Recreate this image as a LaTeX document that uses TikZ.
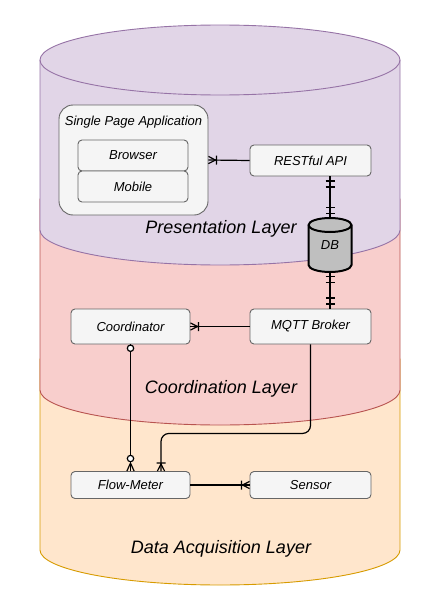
\documentclass[tikz,border=0pt]{standalone}
\usepackage{fontspec}
\setmainfont{Liberation Sans}
\usepackage{tikz}
\usetikzlibrary{calc}
\usetikzlibrary{positioning}
\usetikzlibrary{arrows.meta}

\definecolor{presfill}{HTML}{E1D5E7}
\definecolor{presline}{HTML}{9673A6}
\definecolor{coorfill}{HTML}{F8CECC}
\definecolor{coorline}{HTML}{B85450}
\definecolor{acqfill}{HTML}{FFE6CC}
\definecolor{acqline}{HTML}{D79B00}
\definecolor{boxfill}{HTML}{F5F5F5}
\definecolor{boxline}{HTML}{666666}
\definecolor{dbfill}{HTML}{BFBFBF}

% ER end marks
\pgfdeclarearrow{
  name = ER Many,
  setup code = {
    \pgfarrowssettipend{0pt}
    \pgfarrowssetlineend{0pt}
    \pgfarrowssetbackend{-9pt}
  },
  drawing code = {
    \pgfpathmoveto{\pgfqpoint{-7pt}{0pt}}
    \pgfpathlineto{\pgfqpoint{0pt}{3.6pt}}
    \pgfpathmoveto{\pgfqpoint{-7pt}{0pt}}
    \pgfpathlineto{\pgfqpoint{0pt}{-3.6pt}}
    \pgfpathmoveto{\pgfqpoint{-8pt}{4.5pt}}
    \pgfpathlineto{\pgfqpoint{-8pt}{-4.5pt}}
    \pgfusepathqstroke
  }
}
\pgfdeclarearrow{
  name = ER Zero Many,
  setup code = {
    \pgfarrowssettipend{0pt}
    \pgfarrowssetlineend{0pt}
    \pgfarrowssetbackend{-17pt}
  },
  drawing code = {
    \pgfpathmoveto{\pgfqpoint{-8pt}{0pt}}
    \pgfpathlineto{\pgfqpoint{0pt}{3.6pt}}
    \pgfpathmoveto{\pgfqpoint{-8pt}{0pt}}
    \pgfpathlineto{\pgfqpoint{0pt}{-3.6pt}}
    \pgfusepathqstroke
    \pgfsetfillcolor{white}
    \pgfpathcircle{\pgfqpoint{-12.5pt}{0pt}}{3.2pt}
    \pgfusepathqfillstroke
  }
}
\pgfdeclarearrow{
  name = ER Zero,
  setup code = {
    \pgfarrowssettipend{0pt}
    \pgfarrowssetlineend{0pt}
    \pgfarrowssetbackend{-7pt}
  },
  drawing code = {
    \pgfsetfillcolor{white}
    \pgfpathcircle{\pgfqpoint{-3.8pt}{0pt}}{3.2pt}
    \pgfusepathqfillstroke
  }
}
\pgfdeclarearrow{
  name = ER One,
  setup code = {
    \pgfarrowssettipend{0pt}
    \pgfarrowssetlineend{0pt}
    \pgfarrowssetbackend{-11pt}
  },
  drawing code = {
    \pgfpathmoveto{\pgfqpoint{-4.5pt}{4.5pt}}
    \pgfpathlineto{\pgfqpoint{-4.5pt}{-4.5pt}}
    \pgfpathmoveto{\pgfqpoint{-10.5pt}{4.5pt}}
    \pgfpathlineto{\pgfqpoint{-10.5pt}{-4.5pt}}
    \pgfusepathqstroke
  }
}

\begin{document}
\begin{tikzpicture}[x=1pt,y=-1pt]
\tikzstyle{box}=[rectangle,rounded corners=4pt,draw=boxline,fill=boxfill,line width=0.9pt,font=\fontsize{13}{15}\selectfont\itshape,inner sep=0pt]
\tikzstyle{layer}=[font=\fontsize{18}{21}\selectfont\itshape]
\tikzstyle{link}=[line width=1.2pt]
\tikzstyle{onemany}=[link,-{ER Many}]
\tikzstyle{mandone}=[link,{ER One}-{ER One}]
\useasboundingbox (0,0) rectangle (432,605);

% layers, bottom one first
\filldraw[fill=acqfill,draw=acqline,line width=0.9pt] (40,360) -- (40,550)
  arc[start angle=180,end angle=0,x radius=180,y radius=35] -- (400,360)
  arc[start angle=0,end angle=-180,x radius=180,y radius=35] -- cycle;
\filldraw[fill=coorfill,draw=coorline,line width=0.9pt] (40,200) -- (40,390)
  arc[start angle=180,end angle=0,x radius=180,y radius=35] -- (400,200)
  arc[start angle=0,end angle=-180,x radius=180,y radius=35] -- cycle;
\filldraw[fill=presfill,draw=presline,line width=0.9pt] (40,60) -- (40,230)
  arc[start angle=180,end angle=0,x radius=180,y radius=35] -- (400,60)
  arc[start angle=0,end angle=-180,x radius=180,y radius=35] -- cycle;
\draw[presline,line width=0.9pt] (40,60) arc[start angle=180,end angle=0,x radius=180,y radius=35];

\node[layer] at (221,229) (pres) {Presentation Layer};
\node[layer] at (221,389) (coor) {Coordination Layer};
\node[layer] at (221,549) (acq) {Data Acquisition Layer};

% presentation
\node[box,rounded corners=14pt,minimum width=149pt,minimum height=110pt] at (133.5,160) (spa) {};
\node[font=\fontsize{13}{15}\selectfont\itshape] at (133.5,122) (spatitle) {Single Page Application};
\node[box,minimum width=110pt,minimum height=31pt] at (133,155.5) (browser) {Browser};
\node[box,minimum width=110pt,minimum height=31pt] at (133,186.5) (mobile) {Mobile};
\node[box,minimum width=121pt,minimum height=31pt] at (310.5,160.5) (api) {RESTful API};

% database
\filldraw[fill=dbfill,draw=black,line width=2pt] (308.5,225) -- (308.5,265)
  arc[start angle=180,end angle=0,x radius=21.5,y radius=7] -- (351.5,225)
  arc[start angle=0,end angle=-180,x radius=21.5,y radius=7] -- cycle;
\draw[line width=2pt] (308.5,225) arc[start angle=180,end angle=0,x radius=21.5,y radius=7];
\node[minimum width=43pt,minimum height=54pt,font=\fontsize{13}{15}\selectfont\itshape] at (330,245) (db) {DB};

% coordination
\node[box,minimum width=119pt,minimum height=35pt] at (130.5,326.5) (coord) {Coordinator};
\node[box,minimum width=121pt,minimum height=35pt] at (310.5,326.5) (mqtt) {MQTT Broker};

% acquisition
\node[box,minimum width=119pt,minimum height=27pt] at (130.5,485) (flow) {Flow-Meter};
\node[box,minimum width=121pt,minimum height=27pt] at (310.5,485) (sensor) {Sensor};

% links
\draw[onemany] (api.west) -- (spa.east);
\draw[mandone] (api.south -| db) -- (db.north);
\draw[mandone] (db.south) -- (db.south |- mqtt.north);
\draw[onemany] (mqtt.west) -- (coord.east);
\draw[link,{ER Zero}-{ER Zero Many}] (coord.south) -- (flow.north);
\draw[onemany,rounded corners=8pt] (mqtt.south) -- ++(0,89) -| ([xshift=30.5pt]flow.north);
\draw[onemany] (flow.east) -- (sensor.west);
\end{tikzpicture}
\end{document}
